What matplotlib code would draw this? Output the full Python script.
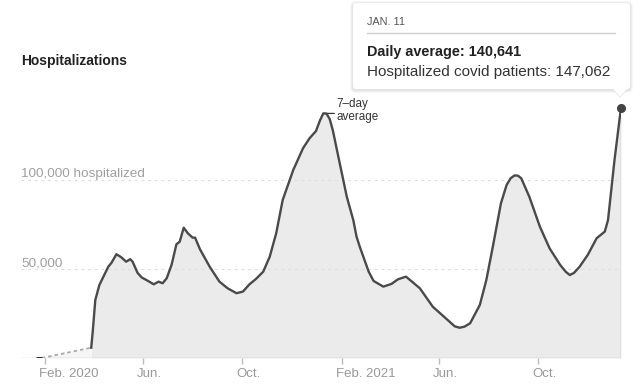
import pandas as pd
import numpy as np
import matplotlib
matplotlib.use("Agg")
import matplotlib.pyplot as plt
import matplotlib.dates as mdates
from matplotlib.patches import FancyBboxPatch, Polygon
from matplotlib.transforms import Affine2D, ScaledTranslation

# first reported days, then the gap shown as a dotted line
early_dates = ["2020-01-21", "2020-01-28"]
early_values = [0, 0]

# 7-day average of hospitalized covid patients
dates = ["2020-03-29", "2020-03-31", "2020-04-03", "2020-04-08", "2020-04-11",
         "2020-04-19", "2020-04-23", "2020-04-29", "2020-05-05", "2020-05-11",
         "2020-05-16", "2020-05-19", "2020-05-25", "2020-05-30", "2020-06-07",
         "2020-06-14", "2020-06-20", "2020-06-25", "2020-06-30", "2020-07-06",
         "2020-07-12", "2020-07-16", "2020-07-21", "2020-07-26", "2020-08-01",
         "2020-08-04", "2020-08-10", "2020-08-22", "2020-09-03", "2020-09-13",
         "2020-09-24", "2020-10-02", "2020-10-10", "2020-10-18", "2020-10-27",
         "2020-11-04", "2020-11-12", "2020-11-20", "2020-12-03", "2020-12-15",
         "2020-12-23", "2020-12-31", "2021-01-05", "2021-01-09", "2021-01-13",
         "2021-01-17", "2021-01-21", "2021-01-25",
         "2021-02-07", "2021-02-15", "2021-02-19", "2021-02-23", "2021-03-06",
         "2021-03-12", "2021-03-24", "2021-04-03", "2021-04-11", "2021-04-21",
         "2021-05-08", "2021-05-24", "2021-06-10", "2021-06-20", "2021-06-26",
         "2021-07-02", "2021-07-09",
         "2021-07-21", "2021-07-29", "2021-08-06", "2021-08-16", "2021-08-23",
         "2021-08-28", "2021-09-02", "2021-09-06", "2021-09-10", "2021-09-20",
         "2021-10-03", "2021-10-15",
         "2021-10-28", "2021-11-04", "2021-11-09", "2021-11-14", "2021-11-21",
         "2021-12-01", "2021-12-12",
         "2021-12-22", "2021-12-26", "2021-12-30", "2022-01-03", "2022-01-11"]
values = [5800, 15700, 32600, 41000, 43800,
          51300, 53500, 58300, 56600, 54100,
          55500, 54100, 47900, 45300, 43300,
          41400, 42900, 42000, 44800, 52300,
          63900, 65300, 73200, 70100, 67600,
          67600, 61100, 51300, 42900, 39200,
          36400, 37300, 41400, 44400, 48500,
          56900, 70100, 88800, 105600, 117800,
          123400, 127500, 133500, 137400, 137300,
          134200, 127500, 118700,
          90600, 77500, 68200, 62500, 48500,
          43300, 40100, 41600, 44200, 45700,
          39200, 28800, 21900, 17800, 17000,
          17600, 19500,
          29800, 43800, 62500, 86900, 97200,
          101000, 102600, 102400, 101000, 90600,
          73800, 61600,
          52300, 48400, 46600, 47800, 51300,
          57900, 67300,
          71000, 77500, 94400, 111200, 140641]
assert len(dates) == len(values)

tick_dates = ["2020-02-01", "2020-06-01", "2020-10-01", "2021-02-01", "2021-06-01", "2021-10-01"]
tick_labels = ["Feb. 2020", "Jun.", "Oct.", "Feb. 2021", "Jun.", "Oct."]
grid_values = [50000, 100000]
grid_labels = ["50,000", "100,000 hospitalized"]

tip_date = "JAN. 11"
tip_avg = 140641
tip_patients = 147062

FONT = ["Liberation Sans", "DejaVu Sans"]
plt.rcParams["font.family"] = FONT

W, H = 641, 391
fig = plt.figure(figsize=(W / 100, H / 100), dpi=100)
ax = fig.add_axes([21 / W, 1 - 358 / H, 600 / W, 258 / H])

d = pd.to_datetime(dates)
v = np.array(values)
ed = pd.to_datetime(early_dates)

# shaded area and line
ax.fill_between(d, v, 0, color="#ebebeb", lw=0, zorder=1)
ax.fill_between([ed[-1], d[0]], [early_values[-1], v[0]], 0, color="#f5f5f5", lw=0, zorder=1)
ax.plot([ed[-1], d[0]], [early_values[-1], v[0]], color="#aaaaaa", lw=1.3,
        ls=(0, (2, 1.6)), zorder=3)
ax.plot(ed, early_values, color="#333333", lw=2.2, solid_capstyle="butt", zorder=4)
ax.plot(d, v, color="#4a4a4a", lw=1.7, solid_joinstyle="round", zorder=4)

# hover marker
ax.plot([d[-1], d[-1]], [0, v[-1]], color="#bbbbbb", lw=1, zorder=2)
ax.plot(d[-1], v[-1], "o", ms=5.5, color="#444444", clip_on=False, zorder=5)

# gridlines + labels
for gv, gl in zip(grid_values, grid_labels):
    ax.axhline(gv, color="#dddddd", lw=0.8, ls=(0, (2.5, 3.5)), zorder=2)
    ax.text(0, gv, gl, transform=ax.get_yaxis_transform() + ScaledTranslation(0, 3 / 100, fig.dpi_scale_trans),
            ha="left", va="baseline", fontsize=9.7, color="#a0a0a0", zorder=5)
ax.axhline(0, color="#cccccc", lw=1, zorder=2)

ax.set_xlim(mdates.date2num(pd.Timestamp("2020-01-02 10:00")), mdates.date2num(d[-1]))
ax.set_ylim(0, 50000 * 258 / 89)
for s in ax.spines.values():
    s.set_visible(False)
ax.set_yticks([])
ax.set_xticks(pd.to_datetime(tick_dates))
ax.set_xticklabels(tick_labels, ha="left", fontsize=9.5, color="#999999")
ax.tick_params(axis="x", length=4, width=1, color="#bbbbbb", pad=3.5)
for lab in ax.get_xticklabels():
    lab.set_transform(lab.get_transform() + ScaledTranslation(-6 / 100, 0, fig.dpi_scale_trans))

# 7-day average note at the winter peak
mask = d < pd.Timestamp("2021-03-01")
pk = np.argmax(np.where(mask, v, 0))
ax.annotate("", xy=(d[pk], v[pk]), xytext=(11, 0), textcoords="offset pixels",
            arrowprops=dict(arrowstyle="-", color="#333333", lw=0.9, shrinkA=0, shrinkB=0))
ax.annotate("7\u2013day\naverage", xy=(d[pk], v[pk]), xytext=(13, 3), textcoords="offset pixels",
            ha="left", va="center", fontsize=8.4, color="#333333", linespacing=1.05)

# title
fig.text(21 / W, 1 - 65.5 / H, "Hospitalizations", fontsize=10, fontweight="bold",
         color="#222222", va="baseline", ha="left")

# tooltip, drawn in pixel coordinates measured from the top-left
pxT = Affine2D().scale(1, -1).translate(0, H).scale(1 / 100) + fig.dpi_scale_trans
bx0, by0, bx1, by1 = 353, 3, 630, 89
for i, a in enumerate([0.03, 0.035, 0.04]):
    g = 3 - i
    fig.patches.append(FancyBboxPatch((bx0 - g, by0 - g + 1), bx1 - bx0 + 2 * g, by1 - by0 + 2 * g,
                                      boxstyle="round,pad=0,rounding_size=%d" % (3 + g),
                                      transform=pxT, facecolor="black", alpha=a, lw=0))
fig.patches.append(Polygon([(612, by1 - 1), (620, 97), (628, by1 - 1)], closed=True,
                           transform=pxT, facecolor="white", edgecolor="#e6e6e6", lw=0.6))
fig.patches.append(FancyBboxPatch((bx0, by0), bx1 - bx0, by1 - by0,
                                  boxstyle="round,pad=0,rounding_size=3",
                                  transform=pxT, facecolor="white", lw=0))
fig.patches.append(Polygon([(612.5, by1 - 1), (620, 96), (627.5, by1 - 1)], closed=True,
                           transform=pxT, facecolor="white", lw=0))
fig.lines.append(plt.Line2D([367, 615], [32.5, 32.5], transform=pxT, color="#cccccc", lw=1))
fig.text(367, 25, tip_date, transform=pxT, fontsize=7.8, color="#555555", va="baseline", ha="left")
fig.text(367, 56, "Daily average: {:,}".format(tip_avg), transform=pxT, fontsize=10.4,
         fontweight="bold", color="#222222", va="baseline", ha="left")
fig.text(367, 76, "Hospitalized covid patients: {:,}".format(tip_patients), transform=pxT,
         fontsize=11, color="#333333", va="baseline", ha="left")

fig.savefig("out.png", dpi=100)
